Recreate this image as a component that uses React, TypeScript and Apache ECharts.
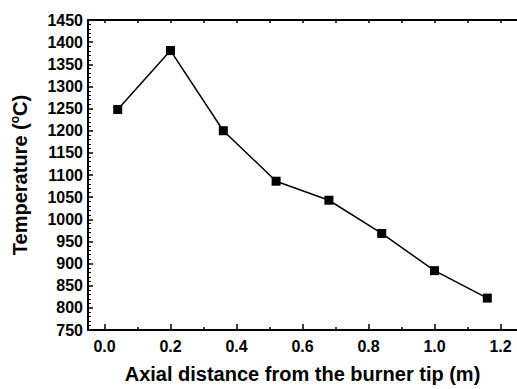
import React, { useEffect, useRef } from "react";
import * as echarts from "echarts";

const distances = [0.04, 0.2, 0.36, 0.52, 0.68, 0.84, 1.0, 1.16];
const temperatures = [1248, 1381, 1200, 1086, 1043, 968, 884, 822];
const xMajorTicks = [0, 0.2, 0.4, 0.6, 0.8, 1.0, 1.2];
const xMinorTicks = [0.1, 0.3, 0.5, 0.7, 0.9, 1.1];
const xTopTicks = [0, 0.1, 0.2, 0.3, 0.4, 0.5, 0.6, 0.7, 0.8, 0.9, 1.0, 1.1, 1.2];

const FONT = "'Liberation Sans', Arial, sans-serif";

export default function App() {
  const ref = useRef<HTMLDivElement>(null);
  useEffect(() => {
    if (!ref.current) return;
    const chart = echarts.init(ref.current, undefined, { renderer: "svg" });
    const xBase = {
      type: "value" as const,
      min: -0.05,
      max: 1.25,
      splitLine: { show: false },
    };
    chart.setOption({
      animation: false,
      backgroundColor: "#fff",
      grid: { left: 88, top: 20, width: 430, bottom: 55, containLabel: false },
      xAxis: [
        {
          ...xBase,
          position: "bottom",
          name: "Axial distance from the burner tip (m)",
          nameLocation: "middle",
          nameGap: 34,
          nameTextStyle: { fontFamily: FONT, fontWeight: "bold", fontSize: 20, color: "#000" },
          axisLine: { show: true, onZero: false, lineStyle: { color: "#000", width: 2 } },
          axisTick: { show: true, inside: true, length: 6, customValues: xMajorTicks, lineStyle: { color: "#000", width: 1.5 } },
          axisLabel: {
            customValues: xMajorTicks,
            margin: 8,
            fontFamily: FONT,
            fontWeight: "bold",
            fontSize: 16,
            color: "#000",
            formatter: (v: number) => v.toFixed(1),
          },
        },
        {
          ...xBase,
          position: "bottom",
          axisLine: { show: false, onZero: false },
          axisTick: { show: true, inside: true, length: 3, customValues: xMinorTicks, lineStyle: { color: "#000", width: 1.5 } },
          axisLabel: { show: false },
        },
        {
          ...xBase,
          position: "top",
          axisLine: { show: true, onZero: false, lineStyle: { color: "#000", width: 2 } },
          axisTick: { show: true, inside: true, length: 3, customValues: xTopTicks, lineStyle: { color: "#000", width: 1.5 } },
          axisLabel: { show: false },
        },
      ],
      yAxis: {
        type: "value",
        min: 750,
        max: 1450,
        interval: 50,
        name: "Temperature ({sup|o}C)",
        nameLocation: "middle",
        nameGap: 58,
        nameTextStyle: {
          fontFamily: FONT,
          fontWeight: "bold",
          fontSize: 20,
          color: "#000",
          rich: {
            sup: { fontFamily: FONT, fontWeight: "bold", fontSize: 12, color: "#000", padding: [0, 0, 9, 0] },
          },
        },
        splitLine: { show: false },
        axisLine: { show: true, onZero: false, lineStyle: { color: "#000", width: 2 } },
        axisTick: { show: true, inside: true, length: 5, lineStyle: { color: "#000", width: 1.5 } },
        minorTick: { show: true, splitNumber: 5, length: 3, lineStyle: { color: "#000", width: 1 } },
        axisLabel: {
          margin: 5,
          fontFamily: FONT,
          fontWeight: "bold",
          fontSize: 16,
          color: "#000",
          formatter: (v: number) => String(v),
        },
      },
      series: [
        {
          type: "line",
          xAxisIndex: 0,
          data: distances.map((d, i) => [d, temperatures[i]]),
          symbol: "rect",
          symbolSize: 9,
          itemStyle: { color: "#000" },
          lineStyle: { color: "#000", width: 1.5 },
        },
      ],
    });
    return () => chart.dispose();
  }, []);
  return <div ref={ref} style={{ position: "fixed", left: 0, top: 0, width: 517, height: 389 }} />;
}
